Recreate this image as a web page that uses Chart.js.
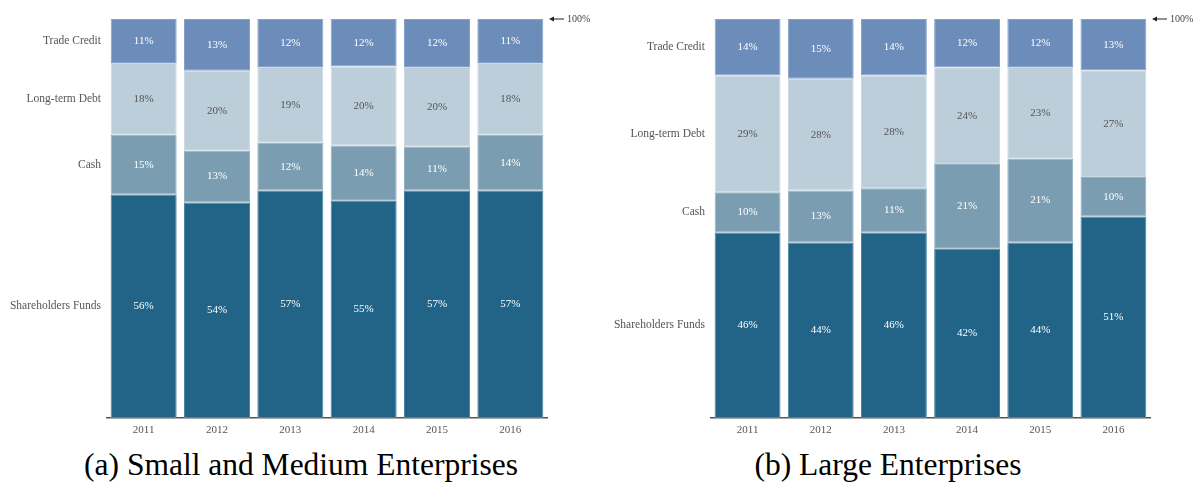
<!DOCTYPE html>
<html>
<head>
<meta charset="utf-8">
<script src="https://cdn.jsdelivr.net/npm/chart.js"></script>
<style>
  html, body { margin: 0; padding: 0; background: #fff; }
  body { width: 1193px; height: 486px; position: relative; overflow: hidden; }
  .panel { position: absolute; top: 0; height: 445px; }
  #p1 { left: 0; width: 596px; }
  #p2 { left: 596px; width: 597px; }
  .cap { position: absolute; top: 446px; line-height: 38px; font-family: "Liberation Serif", "DejaVu Serif", serif; font-size: 31.5px; color: #000; white-space: nowrap; transform: translateX(-50%); }
</style>
</head>
<body>
<div class="panel" id="p1"><canvas id="c1"></canvas></div>
<div class="panel" id="p2"><canvas id="c2"></canvas></div>
<div class="cap" style="left:301px">(a) Small and Medium Enterprises</div>
<div class="cap" style="left:888px">(b) Large Enterprises</div>
<script>
// ---- Data ----
const years = ["2011", "2012", "2013", "2014", "2015", "2016"];
const seriesNames = ["Shareholders Funds", "Cash", "Long-term Debt", "Trade Credit"];
// Small and Medium Enterprises (%)
const smeShareholders = [56, 54, 57, 55, 57, 57];
const smeCash         = [15, 13, 12, 14, 11, 14];
const smeLongDebt     = [18, 20, 19, 20, 20, 18];
const smeTradeCredit  = [11, 13, 12, 12, 12, 11];
// Large Enterprises (%)
const leShareholders = [46, 44, 46, 42, 44, 51];
const leCash         = [10, 13, 11, 21, 21, 10];
const leLongDebt     = [29, 28, 28, 24, 23, 27];
const leTradeCredit  = [14, 15, 14, 12, 12, 13];
const topLabel = "100%";

const colors = ["#216487", "#7a9db1", "#bdcedb", "#6c8cb9"];
const borderColors = ["#4a84a2", "#93b1c2", "#cddae4", "#86a1c7"];
const labelColors = ["#ffffff", "#ffffff", "#555555", "#ffffff"];
const FONT = "'Liberation Serif', 'DejaVu Serif', serif";

function buildChart(canvasId, series, areaLeft, padRight) {
  const totals = years.map((_, i) => series.reduce((s, a) => s + a[i], 0));
  const norm = series.map(a => a.map((v, i) => v / totals[i] * 100));
  const mids = [];
  let acc = 0;
  norm.forEach(a => { mids.push(acc + a[0] / 2); acc += a[0]; });

  const labelPlugin = {
    id: 'segLabels',
    afterDatasetsDraw(chart) {
      const ctx = chart.ctx;
      ctx.save();
      ctx.font = "11px " + FONT;
      ctx.textAlign = 'center';
      ctx.textBaseline = 'middle';
      chart.data.datasets.forEach((ds, di) => {
        const meta = chart.getDatasetMeta(di);
        meta.data.forEach((el, i) => {
          ctx.fillStyle = labelColors[di];
          ctx.fillText(series[di][i] + '%', el.x, (el.y + el.base) / 2);
        });
      });
      const y = chart.scales.y.getPixelForValue(100);
      const x0 = chart.chartArea.right + 2;
      ctx.strokeStyle = '#222';
      ctx.fillStyle = '#222';
      ctx.lineWidth = 1;
      ctx.beginPath();
      ctx.moveTo(x0 + 4, y); ctx.lineTo(x0 + 15, y); ctx.stroke();
      ctx.beginPath();
      ctx.moveTo(x0, y); ctx.lineTo(x0 + 5, y - 2.5); ctx.lineTo(x0 + 5, y + 2.5); ctx.closePath(); ctx.fill();
      ctx.font = "10px " + FONT;
      ctx.fillStyle = '#444';
      ctx.textAlign = 'left';
      ctx.fillText(topLabel, x0 + 18, y);
      ctx.restore();
    }
  };

  return new Chart(document.getElementById(canvasId), {
    type: 'bar',
    data: {
      labels: years,
      datasets: seriesNames.map((n, di) => ({
        label: n,
        data: norm[di],
        backgroundColor: colors[di],
        borderColor: borderColors[di],
        borderWidth: 1,
        borderSkipped: false,
        categoryPercentage: 1.0,
        barPercentage: 0.9
      }))
    },
    options: {
      responsive: true,
      maintainAspectRatio: false,
      animation: false,
      layout: { padding: { top: 19, right: padRight, left: 0, bottom: 0 } },
      plugins: { legend: { display: false }, tooltip: { enabled: false } },
      scales: {
        x: {
          stacked: true,
          grid: { display: false, drawTicks: false },
          border: { display: true, color: '#555', width: 1.5 },
          ticks: { color: '#555', font: { family: FONT, size: 11 }, padding: 6 },
          afterFit(s) { s.height = 27; }
        },
        y: {
          stacked: true,
          min: 0, max: 100,
          grid: { display: false, drawTicks: false },
          border: { display: false },
          afterBuildTicks(s) { s.ticks = mids.map(v => ({ value: v })); },
          ticks: {
            color: '#555',
            font: { family: FONT, size: 11.5 },
            padding: 6,
            autoSkip: false,
            callback: (v, i) => seriesNames[i]
          },
          afterFit(s) { s.width = areaLeft; }
        }
      }
    },
    plugins: [labelPlugin]
  });
}

buildChart('c1', [smeShareholders, smeCash, smeLongDebt, smeTradeCredit], 107, 49);
buildChart('c2', [leShareholders, leCash, leLongDebt, leTradeCredit], 115, 43);
</script>
</body>
</html>
